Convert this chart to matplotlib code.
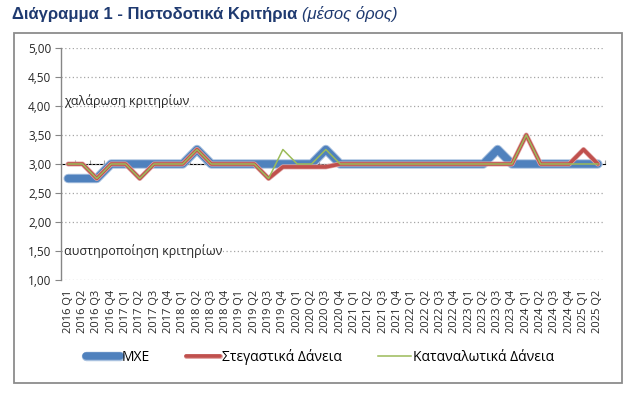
"""
plot.py

Διάγραμμα 1 - Πιστοδοτικά Κριτήρια (μέσος όρος): quarterly average credit standards.
"""

import numpy as np
import matplotlib
matplotlib.use("Agg")
import matplotlib.pyplot as plt
import matplotlib.patheffects as pe
from matplotlib.patches import Rectangle
from matplotlib.ticker import FuncFormatter

# ---- data -------------------------------------------------------------------
years = [2016] * 4 + [2017] * 4 + [2018] * 4 + [2019] * 4 + [2020] * 4 \
    + [2021] * 4 + [2022] * 4 + [2023] * 4 + [2024] * 4 + [2025] * 2
quarters = ["Q1", "Q2", "Q3", "Q4"] * 9 + ["Q1", "Q2"]
labels = [f"{y} {q}" for y, q in zip(years, quarters)]

mxe = [2.75, 2.75, 2.75, 3.00, 3.00, 3.00, 3.00, 3.00, 3.00, 3.25,
       3.00, 3.00, 3.00, 3.00, 3.00, 3.00, 3.00, 3.00, 3.25, 3.00,
       3.00, 3.00, 3.00, 3.00, 3.00, 3.00, 3.00, 3.00, 3.00, 3.00,
       3.25, 3.00, 3.00, 3.00, 3.00, 3.00, 3.00, 3.00]
housing = [3.00, 3.00, 2.75, 3.00, 3.00, 2.75, 3.00, 3.00, 3.00, 3.25,
           3.00, 3.00, 3.00, 3.00, 2.75, 2.95, 2.95, 2.95, 2.95, 3.00,
           3.00, 3.00, 3.00, 3.00, 3.00, 3.00, 3.00, 3.00, 3.00, 3.00,
           3.00, 3.00, 3.50, 3.00, 3.00, 3.00, 3.25, 3.00]
consumer = [3.00, 3.00, 2.75, 3.00, 3.00, 2.75, 3.00, 3.00, 3.00, 3.25,
            3.00, 3.00, 3.00, 3.00, 2.75, 3.25, 3.00, 3.00, 3.25, 3.00,
            3.00, 3.00, 3.00, 3.00, 3.00, 3.00, 3.00, 3.00, 3.00, 3.00,
            3.00, 3.00, 3.50, 3.00, 3.00, 3.00, 3.00, 3.00]

series_names = ["ΜΧΕ", "Στεγαστικά Δάνεια", "Καταναλωτικά Δάνεια"]
title_main = "Διάγραμμα 1 - Πιστοδοτικά Κριτήρια"
title_sub = "(μέσος όρος)"
note_up = "χαλάρωση κριτηρίων"
note_down = "αυστηροποίηση κριτηρίων"

# ---- style ------------------------------------------------------------------
plt.rcParams["font.family"] = ["Open Sans", "DejaVu Sans"]
TITLE_BLUE = "#1F3A70"
GREY = "#868686"

W, H = 628, 393
fig = plt.figure(figsize=(W / 100, H / 100), dpi=100)
ax = fig.add_axes([61 / W, 1 - 280 / H, (605 - 61) / W, (280 - 48) / H])

x = np.arange(len(labels))

ax.plot(x, mxe, color="#4F81BD", lw=5.4, solid_capstyle="round",
        solid_joinstyle="round", label=series_names[0], zorder=3,
        path_effects=[pe.Stroke(linewidth=6.8, foreground="#A9C1DF"), pe.Normal()])
ax.plot(x, housing, color="#C0504D", lw=2.6, solid_capstyle="round",
        solid_joinstyle="round", label=series_names[1], zorder=4,
        path_effects=[pe.Stroke(linewidth=3.6, foreground="#E2A9A8"), pe.Normal()])
ax.plot(x, consumer, color="#9BBB59", lw=1.1, label=series_names[2], zorder=5)

ax.set_xlim(-0.5, len(labels) - 0.5)
ax.set_ylim(1, 5)
ax.set_yticks(np.arange(1, 5.01, 0.5))
ax.yaxis.set_major_formatter(FuncFormatter(lambda v, _: f"{v:.2f}".replace(".", ",")))
ax.tick_params(axis="y", direction="out", length=4, color=GREY, labelsize=8.5,
               labelcolor="#262626", pad=3)

ax.set_xticks(x)
ax.set_xticklabels(labels, rotation=90, fontsize=8, color="#262626")
ax.tick_params(axis="x", length=0, pad=7)

ax.yaxis.grid(True, linestyle=(0, (1, 2)), color="#A6A6A6", lw=0.9)
ax.set_axisbelow(True)
for side in ["top", "right", "bottom"]:
    ax.spines[side].set_visible(False)
ax.spines["left"].set_color(GREY)
ax.spines["left"].set_linewidth(1.0)

# category axis crossing at 3,00
cat = ax.secondary_xaxis(0.5)
cat.set_xticks(np.arange(-0.5, len(labels), 1))
cat.set_xticklabels([])
cat.tick_params(direction="out", length=3, color="#A0A0A0", width=0.8)
cat.spines["bottom"].set_color("#A0A0A0")
cat.spines["bottom"].set_linewidth(0.9)

ax.text(0.005, 4.02, note_up, transform=ax.get_yaxis_transform(), fontsize=9,
        color="#262626", va="baseline", ha="left", zorder=6)
ax.text(0.005, 1.5, note_down, transform=ax.get_yaxis_transform(), fontsize=9,
        color="#262626", va="center", ha="left", zorder=6,
        bbox=dict(fc="white", ec="none", pad=0.5))

fig.legend(loc="center", bbox_to_anchor=(0.51, 1 - 357 / H), ncol=3, frameon=False,
           fontsize=10, handlelength=2.4, handletextpad=0.15, columnspacing=2.6)

# frame around the chart
fig.patches.append(Rectangle((14 / W, 1 - 383 / H), (622 - 14) / W, (383 - 33) / H,
                             transform=fig.transFigure, fill=False, ec="#8C8C8C", lw=1.3))

# title: bold part followed by an italic part
t1 = fig.text(12 / W, 1 - 14 / H, title_main, fontsize=12, fontweight="bold",
              color=TITLE_BLUE, family=["Liberation Sans", "DejaVu Sans"], va="center")
fig.canvas.draw()
bb = t1.get_window_extent()
fig.text((bb.x1 + 5) / W, 1 - 14 / H, title_sub, fontsize=12, style="italic",
         color=TITLE_BLUE, family=["Liberation Sans", "DejaVu Sans"], va="center")

fig.savefig("out.png", dpi=100)
